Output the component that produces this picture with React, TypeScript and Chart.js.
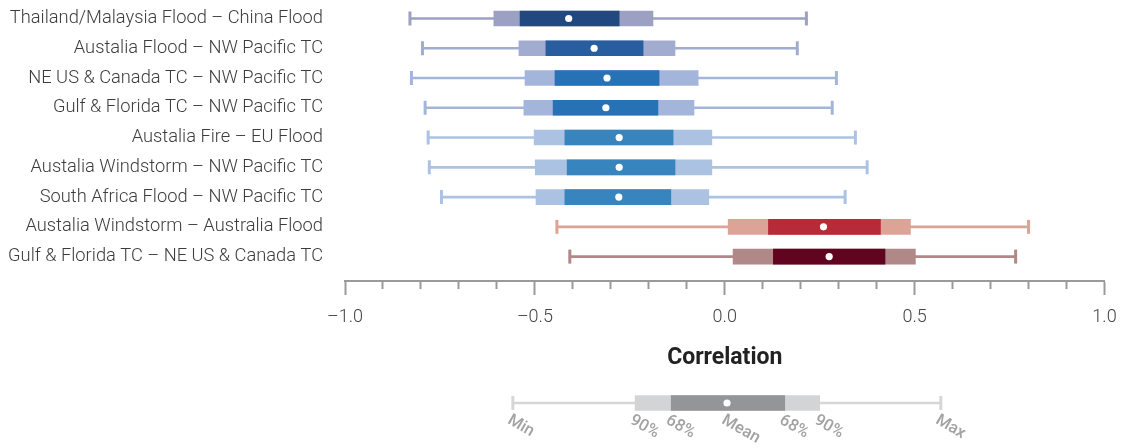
import React, { useEffect, useRef } from "react";
import { Chart, registerables } from "chart.js";

Chart.register(...registerables);

const categories = [
  "Thailand/Malaysia Flood – China Flood",
  "Austalia Flood – NW Pacific TC",
  "NE US & Canada TC – NW Pacific TC",
  "Gulf & Florida TC – NW Pacific TC",
  "Austalia Fire – EU Flood",
  "Austalia Windstorm – NW Pacific TC",
  "South Africa Flood – NW Pacific TC",
  "Austalia Windstorm – Australia Flood",
  "Gulf & Florida TC – NE US & Canada TC",
];

const minValues = [-0.829, -0.796, -0.825, -0.789, -0.781, -0.778, -0.746, -0.442, -0.408];
const p05Values = [-0.608, -0.542, -0.526, -0.529, -0.502, -0.499, -0.497, 0.009, 0.022];
const p16Values = [-0.539, -0.471, -0.447, -0.452, -0.421, -0.415, -0.421, 0.115, 0.128];
const meanValues = [-0.411, -0.344, -0.31, -0.313, -0.278, -0.278, -0.279, 0.26, 0.275];
const p84Values = [-0.278, -0.215, -0.173, -0.176, -0.136, -0.131, -0.142, 0.41, 0.422];
const p95Values = [-0.189, -0.131, -0.07, -0.081, -0.034, -0.034, -0.042, 0.489, 0.502];
const maxValues = [0.215, 0.191, 0.294, 0.283, 0.344, 0.375, 0.317, 0.8, 0.766];

const darkColors = ["#21497f", "#285e9f", "#2771b5", "#2771b5", "#3884bf", "#3884bf", "#3884bf", "#b72b39", "#610420"];
const lightColors = ["#9ca0c2", "#a1acd0", "#a4b5dc", "#a4b5dc", "#abc2e2", "#abc2e2", "#abc2e2", "#dda396", "#b08887"];

const axisTitle = "Correlation";

// Legend schematic
const legendLabels = ["Min", "90%", "68%", "Mean", "68%", "90%", "Max"];
const legendMin = [-0.558];
const legendP05 = [-0.236];
const legendP16 = [-0.141];
const legendMean = [0.006];
const legendP84 = [0.158];
const legendP95 = [0.25];
const legendMax = [0.569];

const capsPlugin = {
  id: "caps",
  beforeDatasetsDraw(chart: any, _args: any, opts: any) {
    const { ctx, scales } = chart;
    const xs = scales.x;
    const ys = scales.y;
    const mins: number[] = opts.mins || [];
    const maxs: number[] = opts.maxs || [];
    const colors: string[] = opts.colors || [];
    ctx.save();
    for (let i = 0; i < mins.length; i++) {
      const py = ys.getPixelForValue(i);
      ctx.fillStyle = colors[i];
      [mins[i], maxs[i]].forEach((v) => {
        const px = xs.getPixelForValue(v);
        ctx.fillRect(px - 1.5, py - 7, 3, 14);
      });
    }
    ctx.restore();
  },
};

const legendTextPlugin = {
  id: "legendText",
  afterDatasetsDraw(chart: any, _args: any, opts: any) {
    const { ctx, scales } = chart;
    const xs = scales.x;
    const values: number[] = opts.values || [];
    const labels: string[] = opts.labels || [];
    ctx.save();
    ctx.fillStyle = "#a2a2a4";
    ctx.font = "500 16.5px Roboto";
    ctx.textAlign = "left";
    ctx.textBaseline = "top";
    for (let i = 0; i < labels.length; i++) {
      const px = xs.getPixelForValue(values[i]);
      ctx.save();
      ctx.translate(px, opts.top);
      ctx.rotate((30 * Math.PI) / 180);
      ctx.fillText(labels[i], 0, 0);
      ctx.restore();
    }
    ctx.restore();
  },
};

function fmtTick(v: number): string {
  const r = Math.round(v * 10) / 10;
  if (Math.abs(r * 2 - Math.round(r * 2)) > 1e-6) return "";
  const s = Math.abs(r).toFixed(1);
  return r < 0 ? "–" + s : s;
}

export default function App() {
  const mainRef = useRef<HTMLCanvasElement>(null);
  const legendRef = useRef<HTMLCanvasElement>(null);

  useEffect(() => {
    const idx = categories.map((_, i) => i);
    const main = new Chart(mainRef.current as HTMLCanvasElement, {
      type: "bar",
      data: {
        datasets: [
          {
            type: "line",
            data: idx.map((i) => ({ x: meanValues[i], y: i })),
            showLine: false,
            pointRadius: 3.6,
            pointHoverRadius: 3.6,
            pointBackgroundColor: "#ffffff",
            pointBorderWidth: 0,
            order: 0,
          } as any,
          {
            data: idx.map((i) => ({ y: i, x: [p16Values[i], p84Values[i]] })),
            backgroundColor: darkColors,
            barThickness: 15,
            grouped: false,
            borderWidth: 0,
            order: 1,
          } as any,
          {
            data: idx.map((i) => ({ y: i, x: [p05Values[i], p95Values[i]] })),
            backgroundColor: lightColors,
            barThickness: 15,
            grouped: false,
            borderWidth: 0,
            order: 2,
          } as any,
          {
            data: idx.map((i) => ({ y: i, x: [minValues[i], maxValues[i]] })),
            backgroundColor: lightColors,
            barThickness: 2,
            grouped: false,
            borderWidth: 0,
            order: 3,
          } as any,
        ],
      },
      options: {
        indexAxis: "y",
        responsive: false,
        animation: false,
        events: [],
        layout: { padding: { left: 0, right: 30.5, top: 3.4, bottom: 0 } },
        plugins: {
          legend: { display: false },
          tooltip: { enabled: false },
          caps: { mins: minValues, maxs: maxValues, colors: lightColors },
        } as any,
        scales: {
          x: {
            type: "linear",
            min: -1,
            max: 1,
            afterFit: (s: any) => {
              s.height = 94;
            },
            ticks: {
              stepSize: 0.1,
              autoSkip: false,
              maxRotation: 0,
              padding: 12,
              color: "#444444",
              font: { family: "Roboto", size: 18, weight: "300" },
              callback: (v: any) => fmtTick(Number(v)),
            },
            grid: {
              drawOnChartArea: false,
              drawTicks: true,
              tickLength: 14,
              tickWidth: 2,
              tickColor: "#9a9a9a",
              tickBorderDash: (c: any) => {
                const v = c.tick ? c.tick.value : 0;
                const major = Math.abs(v * 2 - Math.round(v * 2)) < 1e-6;
                return major ? [] : [7, 100];
              },
            },
            border: { display: true, color: "#9a9a9a", width: 2 },
            title: {
              display: true,
              text: axisTitle,
              color: "#222222",
              font: { family: "Roboto", size: 23, weight: "bold", lineHeight: 1.2 },
              padding: { top: 0, bottom: 3 },
            },
          },
          y: {
            type: "linear",
            reverse: true,
            offset: false,
            min: -0.5,
            max: 8.82,
            afterBuildTicks: (s: any) => {
              s.ticks = idx.map((i) => ({ value: i }));
            },
            afterFit: (s: any) => {
              s.width = 345;
              s.paddingTop = 0;
              s.paddingBottom = 0;
            },
            ticks: {
              autoSkip: false,
              padding: 22,
              color: "#3c3c3c",
              font: { family: "Roboto", size: 18.3, weight: "300" },
              callback: (v: any) => categories[Number(v)] ?? "",
            },
            grid: { display: false, drawTicks: false, offset: false },
            border: { display: false },
          },
        },
      },
      plugins: [capsPlugin],
    });

    const legend = new Chart(legendRef.current as HTMLCanvasElement, {
      type: "bar",
      data: {
        datasets: [
          {
            type: "line",
            data: [{ x: legendMean[0], y: 0 }],
            showLine: false,
            pointRadius: 3.6,
            pointBackgroundColor: "#ffffff",
            pointBorderWidth: 0,
            order: 0,
          } as any,
          {
            data: [{ y: 0, x: [legendP16[0], legendP84[0]] }],
            backgroundColor: "#949598",
            barThickness: 15,
            grouped: false,
            borderWidth: 0,
            order: 1,
          } as any,
          {
            data: [{ y: 0, x: [legendP05[0], legendP95[0]] }],
            backgroundColor: "#d3d4d6",
            barThickness: 15,
            grouped: false,
            borderWidth: 0,
            order: 2,
          } as any,
          {
            data: [{ y: 0, x: [legendMin[0], legendMax[0]] }],
            backgroundColor: "#d6d6d6",
            barThickness: 2,
            grouped: false,
            borderWidth: 0,
            order: 3,
          } as any,
        ],
      },
      options: {
        indexAxis: "y",
        responsive: false,
        animation: false,
        events: [],
        layout: { padding: { left: 345, right: 30.5, top: 13, bottom: 30 } },
        plugins: {
          legend: { display: false },
          tooltip: { enabled: false },
          caps: { mins: legendMin, maxs: legendMax, colors: ["#d6d6d6"] },
          legendText: {
            labels: legendLabels,
            values: [
              legendMin[0],
              legendP05[0],
              legendP16[0],
              legendMean[0],
              legendP84[0],
              legendP95[0],
              legendMax[0],
            ],
            top: 37,
          },
        } as any,
        scales: {
          x: { type: "linear", min: -1, max: 1, display: false },
          y: { type: "linear", min: -0.5, max: 0.5, display: false, offset: false },
        },
      },
      plugins: [capsPlugin, legendTextPlugin],
    });

    return () => {
      main.destroy();
      legend.destroy();
    };
  }, []);

  return (
    <div style={{ position: "fixed", left: 0, top: 0, width: 1135, height: 448, background: "#fff" }}>
      <canvas ref={mainRef} width={1135} height={375} style={{ position: "absolute", left: 0, top: 0 }} />
      <canvas ref={legendRef} width={1135} height={73} style={{ position: "absolute", left: 0, top: 375 }} />
    </div>
  );
}
